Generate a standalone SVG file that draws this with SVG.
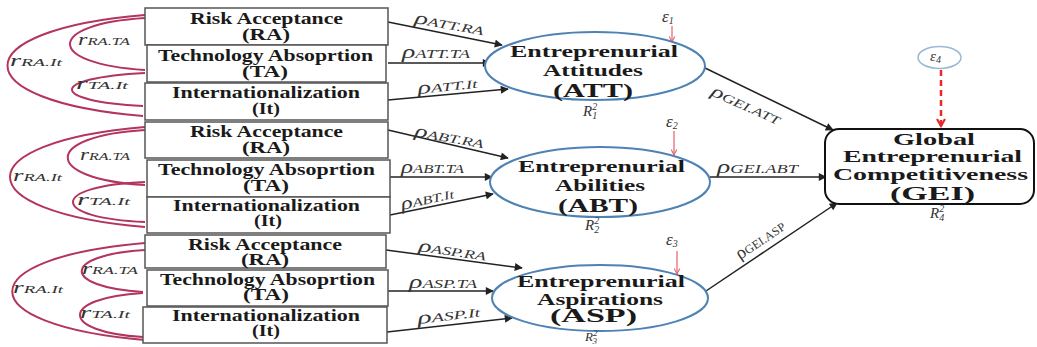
<svg xmlns="http://www.w3.org/2000/svg" width="1037" height="347" viewBox="0 0 1037 347">
<style>
.box{fill:#fff;stroke:#555;stroke-width:1.5}
.bt{font-family:"Liberation Serif",serif;font-weight:bold;font-size:16px;fill:#1a1a1a}
.et{font-family:"Liberation Serif",serif;font-weight:bold;font-size:17px;fill:#1a1a1a}
.eb{font-family:"Liberation Serif",serif;font-weight:bold;font-size:19.5px;fill:#1a1a1a}
.ell{fill:#fff;stroke:#4f82b4;stroke-width:2}
.arr{fill:none;stroke:#222;stroke-width:1.5;marker-end:url(#ah)}
.cor{fill:none;stroke:#b3345f;stroke-width:2}
.lab{font-family:"Liberation Serif",serif;font-style:italic;font-size:12px;fill:#333}
.rho{font-size:18px}
.rl{font-family:"Liberation Serif",serif;font-style:italic;font-size:11px;fill:#333}
.rr{font-size:16px}
.eps{font-family:"Liberation Serif",serif;font-style:italic;font-size:17px;fill:#333}
.rsq{font-family:"Liberation Serif",serif;font-style:italic;font-size:15px;fill:#333}
.sm{font-size:10px}
.err{fill:none;stroke:#e8606a;stroke-width:1.2;marker-end:url(#ahr)}
</style>
<defs>
<marker id="ah" viewBox="0 0 10 10" refX="9" refY="5" markerWidth="10" markerHeight="8" markerUnits="userSpaceOnUse" orient="auto"><path d="M0,0 L10,5 L0,10 z" fill="#222"/></marker>
<marker id="ahr" viewBox="0 0 10 10" refX="9" refY="5" markerWidth="7" markerHeight="7" markerUnits="userSpaceOnUse" orient="auto"><path d="M1,1 L9,5 L1,9" fill="none" stroke="#e8606a" stroke-width="1.5"/></marker>
<marker id="ahd" viewBox="0 0 10 10" refX="8" refY="5" markerWidth="10" markerHeight="10" markerUnits="userSpaceOnUse" orient="auto"><path d="M1,1 L8,5 L1,9" fill="none" stroke="#e42a2a" stroke-width="2.2"/></marker>
</defs>

<g id="connectors">
<path class="cor" d="M145,18 C45,24 45,64 145,70"/>
<path class="cor" d="M145,15 C-38,30 -38,101 143,116"/>
<path class="cor" d="M145,73 C48,78 48,101 143,106"/>
<path class="cor" d="M145,130 C42,136 42,179 145,185"/>
<path class="cor" d="M145,127 C-35,142 -35,212 145,227"/>
<path class="cor" d="M145,182 C49,186 49,218 145,222"/>
<path class="cor" d="M145,250 C61,255 61,287 143,292"/>
<path class="cor" d="M145,243 C-32,258 -32,325 145,340"/>
<path class="cor" d="M143,293 C59,298 59,332 143,337"/>

<text class="rl" x="78" y="45" textLength="52" lengthAdjust="spacingAndGlyphs"><tspan class="rr">r</tspan>RA.TA</text>
<text class="rl" x="10" y="66" textLength="52" lengthAdjust="spacingAndGlyphs"><tspan class="rr">r</tspan>RA.It</text>
<text class="rl" x="76" y="89" textLength="52" lengthAdjust="spacingAndGlyphs"><tspan class="rr">r</tspan>TA.It</text>
<text class="rl" x="80" y="160" textLength="50" lengthAdjust="spacingAndGlyphs"><tspan class="rr">r</tspan>RA.TA</text>
<text class="rl" x="13" y="181" textLength="49" lengthAdjust="spacingAndGlyphs"><tspan class="rr">r</tspan>RA.It</text>
<text class="rl" x="77" y="205" textLength="53" lengthAdjust="spacingAndGlyphs"><tspan class="rr">r</tspan>TA.It</text>
<text class="rl" x="82" y="274" textLength="56" lengthAdjust="spacingAndGlyphs"><tspan class="rr">r</tspan>RA.TA</text>
<text class="rl" x="13" y="293" textLength="50" lengthAdjust="spacingAndGlyphs"><tspan class="rr">r</tspan>RA.It</text>
<text class="rl" x="80" y="318" textLength="50" lengthAdjust="spacingAndGlyphs"><tspan class="rr">r</tspan>TA.It</text>

<line class="arr" x1="388" y1="22" x2="502" y2="45"/>
<line class="arr" x1="388" y1="63" x2="490" y2="63"/>
<line class="arr" x1="388" y1="100" x2="508" y2="89"/>
<line class="arr" x1="388" y1="130" x2="508" y2="158"/>
<line class="arr" x1="390" y1="177" x2="492" y2="177"/>
<line class="arr" x1="390" y1="215" x2="493" y2="194"/>
<line class="arr" x1="386" y1="250" x2="522" y2="268"/>
<line class="arr" x1="388" y1="291" x2="493" y2="291"/>
<line class="arr" x1="387" y1="332" x2="512" y2="318"/>
<line class="arr" x1="703" y1="67" x2="833" y2="130"/>
<line class="arr" x1="710" y1="177" x2="826" y2="177"/>
<line class="arr" x1="700" y1="295" x2="837" y2="203"/>

<g transform="translate(414,23) rotate(10)"><text class="lab" x="0" y="0" textLength="70" lengthAdjust="spacingAndGlyphs"><tspan class="rho">ρ</tspan>ATT.RA</text></g>
<text class="lab" x="402" y="58" textLength="68" lengthAdjust="spacingAndGlyphs"><tspan class="rho">ρ</tspan>ATT.TA</text>
<g transform="translate(418,94) rotate(-6)"><text class="lab" x="0" y="0" textLength="60" lengthAdjust="spacingAndGlyphs"><tspan class="rho">ρ</tspan>ATT.It</text></g>
<g transform="translate(414,136) rotate(10)"><text class="lab" x="0" y="0" textLength="70" lengthAdjust="spacingAndGlyphs"><tspan class="rho">ρ</tspan>ABT.RA</text></g>
<text class="lab" x="401" y="173" textLength="63" lengthAdjust="spacingAndGlyphs"><tspan class="rho">ρ</tspan>ABT.TA</text>
<g transform="translate(402,210) rotate(-13)"><text class="lab" x="0" y="0" textLength="54" lengthAdjust="spacingAndGlyphs"><tspan class="rho">ρ</tspan>ABT.It</text></g>
<g transform="translate(418,251) rotate(8)"><text class="lab" x="0" y="0" textLength="68" lengthAdjust="spacingAndGlyphs"><tspan class="rho">ρ</tspan>ASP.RA</text></g>
<text class="lab" x="409" y="288" textLength="68" lengthAdjust="spacingAndGlyphs"><tspan class="rho">ρ</tspan>ASP.TA</text>
<g transform="translate(418,324) rotate(-7)"><text class="lab" x="0" y="0" textLength="63" lengthAdjust="spacingAndGlyphs"><tspan class="rho">ρ</tspan>ASP.It</text></g>
<g transform="translate(710,95) rotate(24)"><text class="lab" x="0" y="0" textLength="74" lengthAdjust="spacingAndGlyphs"><tspan class="rho">ρ</tspan>GEI.ATT</text></g>
<text class="lab" x="717" y="173" textLength="81" lengthAdjust="spacingAndGlyphs"><tspan class="rho">ρ</tspan>GEI.ABT</text>
<g transform="translate(740,260) rotate(-34)"><text class="lab" x="0" y="0" style="font-style:normal" textLength="56" lengthAdjust="spacingAndGlyphs"><tspan class="rho">ρ</tspan>GEI.ASP</text></g>

<line class="err" x1="672" y1="26" x2="672" y2="42"/>
<line class="err" x1="674" y1="131" x2="674" y2="155"/>
<line class="err" x1="677" y1="251" x2="677" y2="274"/>
<line x1="941" y1="70" x2="941" y2="126" stroke="#e42a2a" stroke-width="2.5" stroke-dasharray="6,4" marker-end="url(#ahd)"/>
</g>

<g id="block1">
<g id="RA1"><rect class="box" x="145" y="8" width="243" height="37"/>
<text class="bt" x="190" y="24" textLength="153" lengthAdjust="spacingAndGlyphs">Risk Acceptance</text>
<text class="bt" x="242" y="40" textLength="48" lengthAdjust="spacingAndGlyphs">(RA)</text></g>
<g id="TA1"><rect class="box" x="147" y="45" width="239" height="37"/>
<text class="bt" x="158" y="61" textLength="215" lengthAdjust="spacingAndGlyphs">Technology Absoprtion</text>
<text class="bt" x="242" y="77" textLength="46" lengthAdjust="spacingAndGlyphs">(TA)</text></g>
<g id="It1"><rect class="box" x="145" y="83" width="243" height="37"/>
<text class="bt" x="172" y="98" textLength="188" lengthAdjust="spacingAndGlyphs">Internationalization</text>
<text class="bt" x="252" y="114" textLength="28" lengthAdjust="spacingAndGlyphs">(It)</text></g>
</g>

<g id="block2">
<g id="RA2"><rect class="box" x="145" y="122" width="243" height="36"/>
<text class="bt" x="190" y="137" textLength="153" lengthAdjust="spacingAndGlyphs">Risk Acceptance</text>
<text class="bt" x="242" y="153" textLength="48" lengthAdjust="spacingAndGlyphs">(RA)</text></g>
<g id="TA2"><rect class="box" x="147" y="160" width="243" height="37"/>
<text class="bt" x="158" y="175" textLength="217" lengthAdjust="spacingAndGlyphs">Technology Absoprtion</text>
<text class="bt" x="243" y="191" textLength="46" lengthAdjust="spacingAndGlyphs">(TA)</text></g>
<g id="It2"><rect class="box" x="147" y="197" width="243" height="36"/>
<text class="bt" x="173" y="211" textLength="187" lengthAdjust="spacingAndGlyphs">Internationalization</text>
<text class="bt" x="254" y="226" textLength="28" lengthAdjust="spacingAndGlyphs">(It)</text></g>
</g>

<g id="block3">
<g id="RA3"><rect class="box" x="145" y="235" width="241" height="33"/>
<text class="bt" x="188" y="250" textLength="154" lengthAdjust="spacingAndGlyphs">Risk Acceptance</text>
<text class="bt" x="241" y="265" textLength="48" lengthAdjust="spacingAndGlyphs">(RA)</text></g>
<g id="TA3"><rect class="box" x="147" y="270" width="241" height="36"/>
<text class="bt" x="160" y="285" textLength="215" lengthAdjust="spacingAndGlyphs">Technology Absoprtion</text>
<text class="bt" x="243" y="300" textLength="46" lengthAdjust="spacingAndGlyphs">(TA)</text></g>
<g id="It3"><rect class="box" x="143" y="307" width="244" height="36"/>
<text class="bt" x="172" y="321" textLength="188" lengthAdjust="spacingAndGlyphs">Internationalization</text>
<text class="bt" x="252" y="336" textLength="28" lengthAdjust="spacingAndGlyphs">(It)</text></g>
</g>

<g id="ATT"><ellipse class="ell" cx="595" cy="66" rx="110" ry="34"/>
<text class="et" x="510" y="57" textLength="168" lengthAdjust="spacingAndGlyphs">Entreprenurial</text>
<text class="et" x="543" y="76" textLength="100" lengthAdjust="spacingAndGlyphs">Attitudes</text>
<text class="eb" x="553" y="97" textLength="80" lengthAdjust="spacingAndGlyphs">(ATT)</text>
<text class="eps" x="662" y="22">ε<tspan class="sm" dy="2">1</tspan></text>
<text class="rsq" x="583" y="116">R<tspan class="sm" dy="-6">2</tspan><tspan class="sm" dx="-5" dy="9">1</tspan></text>
</g>

<g id="ABT"><ellipse class="ell" cx="600" cy="182" rx="110" ry="35"/>
<text class="et" x="518" y="172" textLength="167" lengthAdjust="spacingAndGlyphs">Entreprenurial</text>
<text class="et" x="555" y="191" textLength="90" lengthAdjust="spacingAndGlyphs">Abilities</text>
<text class="eb" x="558" y="212" textLength="80" lengthAdjust="spacingAndGlyphs">(ABT)</text>
<text class="eps" x="666" y="127">ε<tspan class="sm" dy="2">2</tspan></text>
<text class="rsq" x="585" y="230">R<tspan class="sm" dy="-6">2</tspan><tspan class="sm" dx="-5" dy="9">2</tspan></text>
</g>

<g id="ASP"><ellipse class="ell" cx="600" cy="298" rx="108" ry="33"/>
<text class="et" x="517" y="287" textLength="168" lengthAdjust="spacingAndGlyphs">Entreprenurial</text>
<text class="et" x="537" y="305" textLength="126" lengthAdjust="spacingAndGlyphs">Aspirations</text>
<text class="eb" x="550" y="322" style="font-size:18px" textLength="87" lengthAdjust="spacingAndGlyphs">(ASP)</text>
<text class="eps" x="666" y="245">ε<tspan class="sm" dy="2">3</tspan></text>
<text class="rsq" x="585" y="341" style="font-size:13px">R<tspan style="font-size:9px" dy="-5">2</tspan><tspan style="font-size:9px" dx="-5" dy="8">3</tspan></text>
</g>

<g id="e4"><ellipse cx="939.5" cy="57.5" rx="21.5" ry="11" fill="#fff" stroke="#9ab8d6" stroke-width="1.5"/>
<text class="eps" x="930" y="61" style="font-size:15px">ε<tspan class="sm" dy="2">4</tspan></text></g>

<g id="GEI"><rect x="825" y="129" width="209" height="75" rx="14" fill="#fff" stroke="#111" stroke-width="2"/>
<text class="et" x="893" y="145" textLength="82" lengthAdjust="spacingAndGlyphs">Global</text>
<text class="et" x="843" y="162" textLength="179" lengthAdjust="spacingAndGlyphs">Entreprenurial</text>
<text class="et" x="833" y="180" textLength="195" lengthAdjust="spacingAndGlyphs">Competitiveness</text>
<text class="eb" x="890" y="200" textLength="85" lengthAdjust="spacingAndGlyphs">(GEI)</text>
<text class="rsq" x="930" y="218">R<tspan class="sm" dy="-6">2</tspan><tspan class="sm" dx="-5" dy="9">4</tspan></text>
</g>
</svg>
